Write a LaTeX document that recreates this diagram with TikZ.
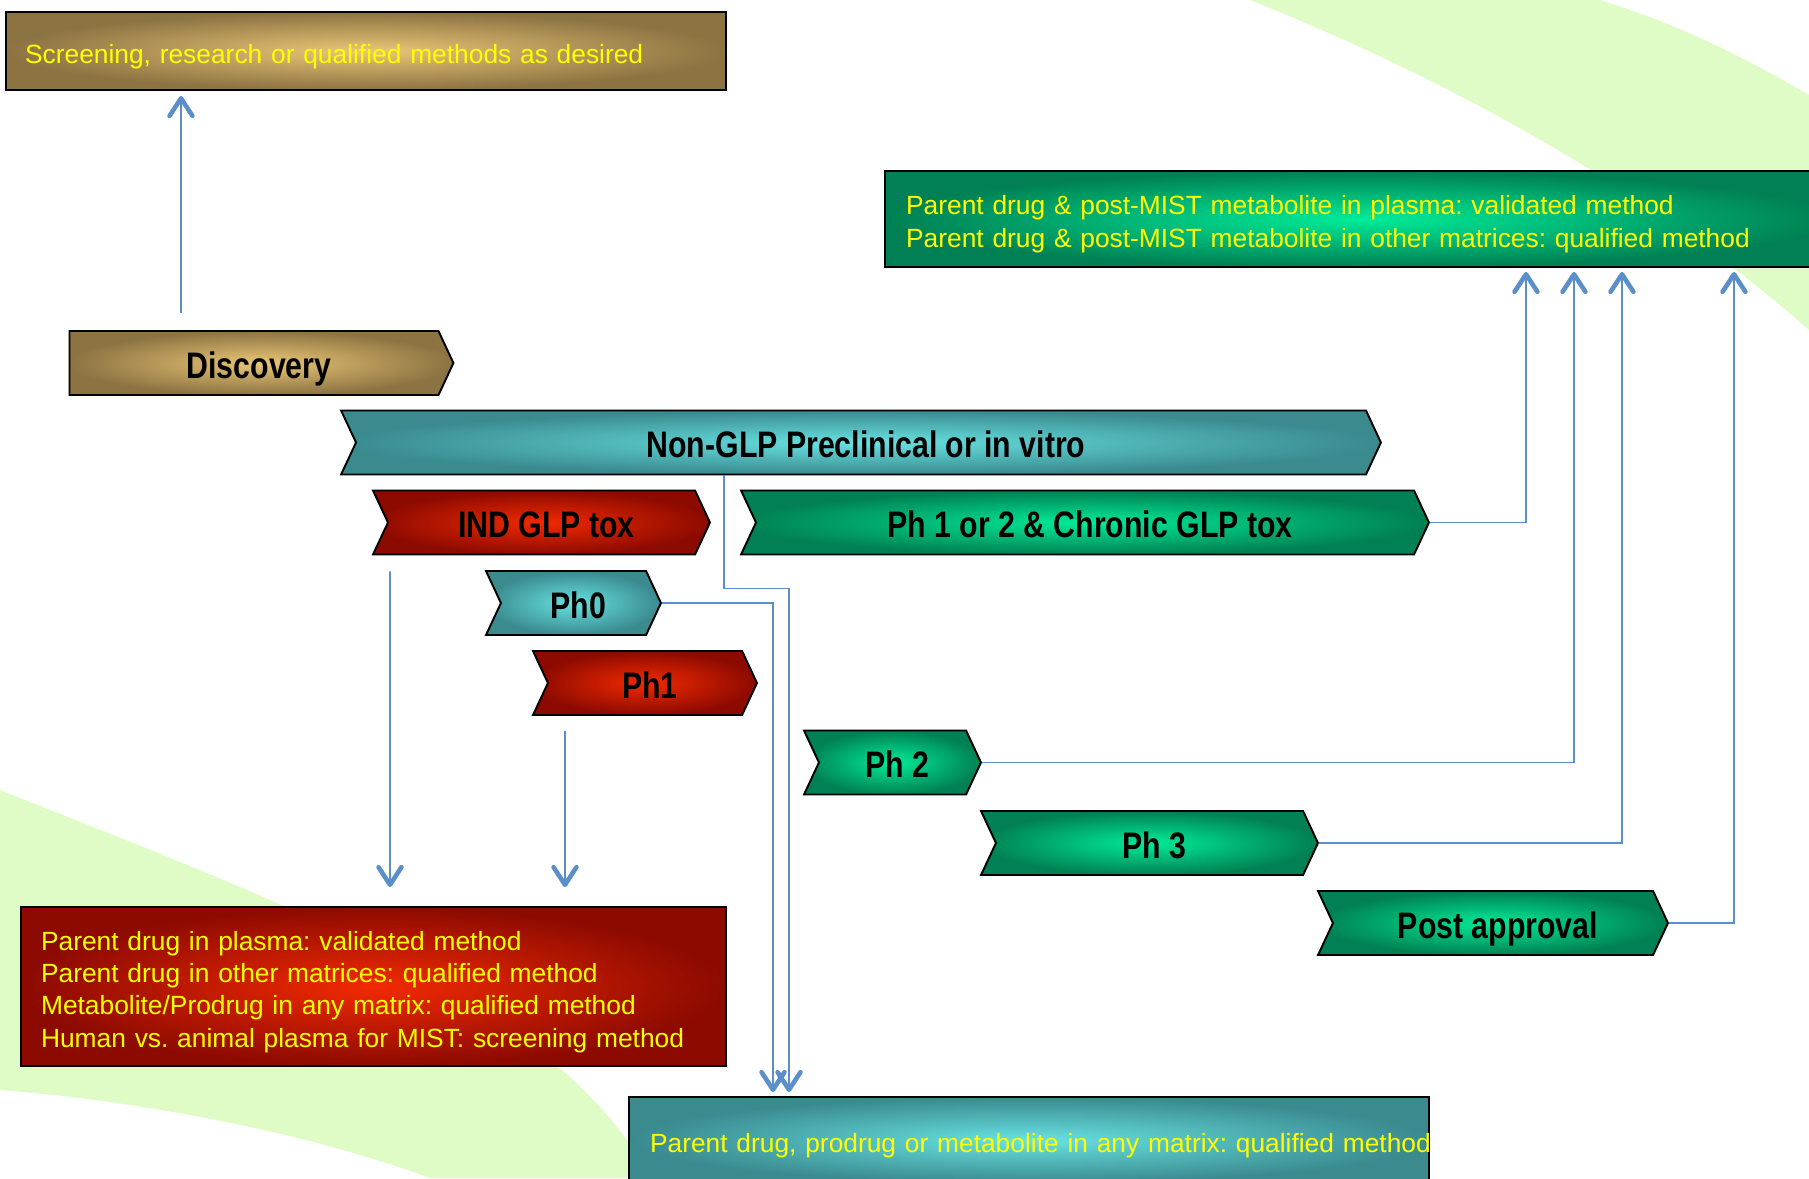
\documentclass[tikz,border=0pt]{standalone}
\usepackage{fontspec}
\setmainfont{Liberation Sans}
\newfontfamily\narrowfont[FakeStretch=0.82]{Liberation Sans}
\usetikzlibrary{shapes.symbols, arrows.meta, calc}
\frenchspacing

\definecolor{swoosh}{RGB}{224,252,198}
\definecolor{goldin}{RGB}{234,198,118}
\definecolor{goldout}{RGB}{140,115,66}
\definecolor{tealin}{RGB}{104,226,226}
\definecolor{tealout}{RGB}{58,138,142}
\definecolor{redin}{RGB}{242,42,0}
\definecolor{redout}{RGB}{140,10,0}
\definecolor{grnin}{RGB}{0,236,152}
\definecolor{grnout}{RGB}{0,128,84}
\definecolor{linkblue}{RGB}{91,143,201}
\definecolor{txtyellow}{RGB}{255,255,0}

\begin{document}
\begin{tikzpicture}[x=0.02cm, y=-0.02cm,
                    >={Straight Barb[length=10pt,width=13pt,line width=2.6pt,round]}]
  \tikzstyle{chev}=[signal, signal to=east, signal from=west, signal pointer angle=130,
                    draw=black, line width=1.1pt, minimum height=1.28cm, inner sep=0pt,
                    text height=17.6pt, text depth=0pt,
                    font=\narrowfont\bfseries\fontsize{21}{24}\selectfont,
                    execute at begin node={\hspace*{5.7pt}}]
  \tikzstyle{infobox}=[rectangle, draw=black, line width=1.1pt, align=left,
                       text=txtyellow, font=\fontsize{15}{18.4}\selectfont,
                       execute at begin node={\rule{0pt}{1.12em}}]
  \tikzstyle{gold}=[inner color=goldin, outer color=goldout]
  \tikzstyle{teal}=[inner color=tealin, outer color=tealout]
  \tikzstyle{redd}=[inner color=redin, outer color=redout]
  \tikzstyle{grn}=[inner color=grnin, outer color=grnout]
  \tikzstyle{link}=[draw=linkblue, line width=1.1pt]

  \useasboundingbox (0,0) rectangle (1809,1178);
  \clip (0,0) rectangle (1809,1178);

  % background swooshes
  \fill[swoosh] (1250,0) .. controls (1450,80) and (1650,190) .. (1809,330)
                -- (1809,95) .. controls (1740,55) and (1680,25) .. (1600,0) -- cycle;
  \fill[swoosh] (0,790) .. controls (250,890) and (560,1000) .. (650,1178)
                -- (430,1178) .. controls (300,1130) and (130,1100) .. (0,1090) -- cycle;

  % method boxes
  \node[infobox, gold, minimum width=14.4cm, minimum height=1.56cm,
        inner xsep=0.38cm, text width=13.64cm] (screen) at (366,51)
        {Screening, research or qualified methods as desired};
  \node[infobox, grn, minimum width=19cm, minimum height=1.92cm,
        inner xsep=0.42cm, text width=18.16cm] (topbox) at (1360,219)
        {Parent drug \& post-MIST metabolite in plasma: validated method\\
         Parent drug \& post-MIST metabolite in other matrices: qualified method};
  \node[infobox, redd, minimum width=14.1cm, minimum height=3.18cm,
        inner xsep=0.4cm, text width=13.3cm] (red) at (373.5,986.5)
        {Parent drug in plasma: validated method\\
         Parent drug in other matrices: qualified method\\
         Metabolite/Prodrug in any matrix: qualified method\\
         Human vs. animal plasma for MIST: screening method};
  \node[infobox, teal, minimum width=16cm, minimum height=1.72cm,
        inner xsep=0.42cm, text width=15.16cm] (lowbox) at (1029,1140)
        {\mbox{Parent drug, prodrug or metabolite in any matrix: qualified method}};

  % phases
  \node[chev, gold, signal from=nowhere, minimum width=7.68cm] (disc) at (254,363) {Discovery};
  \node[chev, teal, minimum width=20.8cm]  (nonglp) at (861,442.5) {Non-GLP Preclinical or in vitro};
  \node[chev, redd, minimum width=6.74cm]  (ind)    at (541.5,522.5) {IND GLP tox};
  \node[chev, grn,  minimum width=13.76cm] (ph12)   at (1085,522.5) {Ph 1 or 2 \& Chronic GLP tox};
  \node[chev, teal, minimum width=3.5cm]   (ph0)    at (573.5,603) {Ph0};
  \node[chev, redd, minimum width=4.48cm]  (ph1)    at (645,683) {Ph1};
  \node[chev, grn,  minimum width=3.54cm]  (ph2)    at (892.5,762.5) {Ph 2};
  \node[chev, grn,  minimum width=6.74cm]  (ph3)    at (1149.5,843) {Ph 3};
  \node[chev, grn,  minimum width=7cm]     (post)   at (1493,923) {Post approval};

  % connectors
  \draw[link,->] ($(disc.north)+(-73,-17)$) -- ($(screen.south)+(-185,5)$);
  \draw[link,->] ($(ind.south)+(-151.5,16)$) -- ($(red.north)+(16.5,-19)$);
  \draw[link,->] ($(ph1.south)+(-80,15)$) -- ($(red.north)+(191.5,-19)$);
  \draw[link,->] ($(nonglp.south)+(-137,0)$) -- ++(0,113) -| ($(lowbox.north)+(-240,-4)$);
  \draw[link,->] (ph0.east) -| ($(lowbox.north)+(-256,-4)$);
  \draw[link,->] (ph12.east) -| ($(topbox.south)+(166,4)$);
  \draw[link,->] (ph2.east) -| ($(topbox.south)+(214,4)$);
  \draw[link,->] (ph3.east) -| ($(topbox.south)+(262,4)$);
  \draw[link,->] (post.east) -| ($(topbox.south)+(374,4)$);
\end{tikzpicture}
\end{document}
